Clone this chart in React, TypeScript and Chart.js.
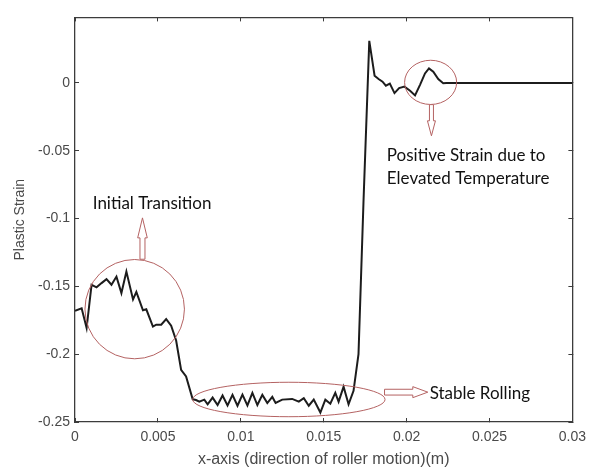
import { useEffect, useRef } from 'react';
import { Chart, registerables } from 'chart.js';

Chart.register(...registerables);

// ---- data ----
const xValues = [
  0, 0.0004, 0.0007, 0.001, 0.0013, 0.0016, 0.0019, 0.0022, 0.0025, 0.0028,
  0.0031, 0.0035, 0.0037, 0.0041, 0.0043, 0.0047, 0.0049, 0.0052, 0.0055, 0.0058,
  0.0061, 0.0064, 0.0067, 0.0071, 0.0073,
  0.0075, 0.0078, 0.008, 0.0083, 0.0086, 0.0089, 0.0092, 0.0095, 0.0098, 0.0101,
  0.0104, 0.0107, 0.011, 0.0113, 0.0116, 0.0119, 0.0121, 0.0125, 0.0131, 0.0135,
  0.0138, 0.0141, 0.0144, 0.0148, 0.0151, 0.0154, 0.0157, 0.0159, 0.0162, 0.0165,
  0.0168, 0.0171, 0.0174, 0.01775,
  0.01807, 0.01831, 0.01855, 0.01875, 0.01899, 0.01927, 0.01955, 0.01987, 0.02021, 0.02051,
  0.02081, 0.02111, 0.02135, 0.02161, 0.02191, 0.02221, 0.0224, 0.03,
];
const strainValues = [
  -0.168, -0.1662, -0.1807, -0.1488, -0.1507, -0.1476, -0.1447, -0.1488, -0.1428, -0.1549,
  -0.1391, -0.1596, -0.1541, -0.1676, -0.1669, -0.1797, -0.1783, -0.1783, -0.1741, -0.179,
  -0.1899, -0.2116, -0.2164, -0.2333, -0.2338,
  -0.235, -0.2335, -0.237, -0.232, -0.2375, -0.2305, -0.2378, -0.23, -0.238, -0.2298,
  -0.2378, -0.2285, -0.2375, -0.23, -0.236, -0.2315, -0.236, -0.2335, -0.233, -0.235,
  -0.2325, -0.238, -0.2335, -0.243, -0.2335, -0.2365, -0.2285, -0.235, -0.224, -0.237,
  -0.227, -0.2, -0.088, 0.031,
  0.0053, 0.0029, 0.0009, -0.002, -0.0005, -0.0075, -0.0038, -0.0027, -0.0058, -0.0092,
  -0.0014, 0.007, 0.0107, 0.0082, 0.0029, -0.0002, 0, 0,
];
const xTicks = [0, 0.005, 0.01, 0.015, 0.02, 0.025, 0.03];
const yTicks = [-0.25, -0.2, -0.15, -0.1, -0.05, 0];
const xRange = [0, 0.03];
const yRange = [-0.25, 0.0483];
const xTitle = 'x-axis (direction of roller motion)(m)';
const yTitle = 'Plastic Strain';

// annotation anchors in data coordinates
const ellipseCenters = [
  [0.0036, -0.1668],
  [0.02145, 0.0004],
  [0.0129, -0.2334],
];
const ellipseRadii = [
  [0.003, 0.0366],
  [0.00157, 0.0163],
  [0.0058, 0.0127],
];
const arrowTails = [
  [0.00407, -0.13],
  [0.0215, -0.016],
  [0.01867, -0.228],
];
const arrowTips = [
  [0.00407, -0.0995],
  [0.0215, -0.039],
  [0.02128, -0.228],
];
const noteTexts = [
  'Initial Transition',
  'Positive Strain due to',
  'Elevated Temperature',
  'Stable Rolling',
];
const notePositions = [
  [0.00465, -0.0886],
  [0.01881, -0.0535],
  [0.01881, -0.0704],
  [0.02139, -0.229],
];

// ---- styles ----
const noteAlign: CanvasTextAlign[] = ['center', 'left', 'left', 'left'];
const arrowShape = [
  { head: 20, headHalf: 4.8, shaftHalf: 2.5 },
  { head: 15, headHalf: 4, shaftHalf: 2 },
  { head: 15, headHalf: 5.5, shaftHalf: 2.9 },
];
const ANNOT_COLOR = '#b46262';
const AXIS_COLOR = '#3c3c3c';
const TEXT_COLOR = '#4a4a4a';
const TICK_FONT = { family: '"Liberation Sans", Arial, sans-serif', size: 14 };
const X_TITLE_FONT = { family: '"Liberation Sans", Arial, sans-serif', size: 16 };
const Y_TITLE_FONT = { family: '"Liberation Sans", Arial, sans-serif', size: 14 };
const NOTE_FONT = '17px Lato, "Open Sans", sans-serif';

const fmt = (v: number) => String(Number(v.toFixed(4)));

const annotationPlugin = {
  id: 'notes',
  afterDatasetsDraw(chart: any) {
    const ctx = chart.ctx as CanvasRenderingContext2D;
    const xs = chart.scales.x;
    const ys = chart.scales.y;
    const px = (v: number) => xs.getPixelForValue(v);
    const py = (v: number) => ys.getPixelForValue(v);
    ctx.save();
    // ellipses
    ctx.strokeStyle = ANNOT_COLOR;
    ctx.lineWidth = 1;
    ellipseCenters.forEach((c, i) => {
      const cx = px(c[0]);
      const cy = py(c[1]);
      const rx = Math.abs(px(c[0] + ellipseRadii[i][0]) - cx);
      const ry = Math.abs(py(c[1] + ellipseRadii[i][1]) - cy);
      ctx.beginPath();
      ctx.ellipse(cx, cy, rx, ry, 0, 0, Math.PI * 2);
      ctx.stroke();
    });
    // hollow arrows
    arrowTails.forEach((t, i) => {
      const x0 = px(t[0]);
      const y0 = py(t[1]);
      const x1 = px(arrowTips[i][0]);
      const y1 = py(arrowTips[i][1]);
      const len = Math.hypot(x1 - x0, y1 - y0);
      const ux = (x1 - x0) / len;
      const uy = (y1 - y0) / len;
      const nx = -uy;
      const ny = ux;
      const s = arrowShape[i];
      const hbx = x1 - ux * s.head;
      const hby = y1 - uy * s.head;
      const pts = [
        [x0 + nx * s.shaftHalf, y0 + ny * s.shaftHalf],
        [hbx + nx * s.shaftHalf, hby + ny * s.shaftHalf],
        [hbx + nx * s.headHalf, hby + ny * s.headHalf],
        [x1, y1],
        [hbx - nx * s.headHalf, hby - ny * s.headHalf],
        [hbx - nx * s.shaftHalf, hby - ny * s.shaftHalf],
        [x0 - nx * s.shaftHalf, y0 - ny * s.shaftHalf],
      ];
      ctx.beginPath();
      pts.forEach((p, k) => (k === 0 ? ctx.moveTo(p[0], p[1]) : ctx.lineTo(p[0], p[1])));
      ctx.closePath();
      ctx.fillStyle = '#ffffff';
      ctx.fill();
      ctx.stroke();
    });
    // notes
    ctx.fillStyle = '#111111';
    ctx.font = NOTE_FONT;
    ctx.textBaseline = 'middle';
    noteTexts.forEach((txt, i) => {
      ctx.textAlign = noteAlign[i];
      ctx.fillText(txt, px(notePositions[i][0]), py(notePositions[i][1]));
    });
    ctx.restore();
  },
};

export default function App() {
  const canvasRef = useRef<HTMLCanvasElement>(null);

  useEffect(() => {
    if (!canvasRef.current) return;
    const gridOpts = { drawOnChartArea: false, drawTicks: true, tickLength: -4, color: AXIS_COLOR, tickColor: AXIS_COLOR, lineWidth: 1 };
    const borderOpts = { display: true, color: AXIS_COLOR, width: 1.3 };
    const hiddenAxis = (position: string, ticks: number[], range: number[], horizontal: boolean) => ({
      type: 'linear',
      position,
      min: range[0],
      max: range[1],
      afterBuildTicks: (s: any) => {
        s.ticks = ticks.map((v) => ({ value: v }));
      },
      afterFit: (s: any) => {
        if (horizontal) s.height = 0;
        else s.width = 0;
      },
      ticks: { display: false },
      grid: gridOpts,
      border: borderOpts,
      title: { display: false },
    });

    const chart = new Chart(canvasRef.current, {
      type: 'scatter',
      data: {
        datasets: [
          {
            data: xValues.map((x, i) => ({ x, y: strainValues[i] })),
            showLine: true,
            borderColor: '#1c1c1c',
            borderWidth: 2,
            pointRadius: 0,
            tension: 0,
            xAxisID: 'x',
            yAxisID: 'y',
          },
        ],
      },
      options: {
        responsive: false,
        animation: false,
        devicePixelRatio: 1,
        layout: { padding: { left: 0, right: 24, top: 11.5, bottom: 0 } },
        plugins: { legend: { display: false }, tooltip: { enabled: false } },
        events: [],
        scales: {
          x: {
            type: 'linear',
            position: 'bottom',
            min: xRange[0],
            max: xRange[1],
            afterBuildTicks: (s: any) => {
              s.ticks = xTicks.map((v) => ({ value: v }));
            },
            afterFit: (s: any) => {
              s.height = 48;
            },
            ticks: {
              autoSkip: false,
              maxRotation: 0,
              color: TEXT_COLOR,
              font: TICK_FONT,
              padding: 11,
              callback: (v: any) => fmt(Number(v)),
            },
            grid: gridOpts,
            border: borderOpts,
            title: { display: true, text: xTitle, color: TEXT_COLOR, font: X_TITLE_FONT, padding: { top: 0, bottom: 0.5 } },
          },
          y: {
            type: 'linear',
            position: 'left',
            min: yRange[0],
            max: yRange[1],
            afterBuildTicks: (s: any) => {
              s.ticks = yTicks.map((v) => ({ value: v }));
            },
            afterFit: (s: any) => {
              s.width = 75;
            },
            ticks: {
              autoSkip: false,
              color: TEXT_COLOR,
              font: TICK_FONT,
              padding: 9,
              callback: (v: any) => fmt(Number(v)),
            },
            grid: gridOpts,
            border: borderOpts,
            title: { display: true, text: yTitle, color: TEXT_COLOR, font: Y_TITLE_FONT, padding: { top: 11.6, bottom: 0 } },
          },
          xTop: hiddenAxis('top', xTicks, xRange, true),
          yRight: hiddenAxis('right', yTicks, yRange, false),
        },
      } as any,
      plugins: [annotationPlugin],
    });
    return () => chart.destroy();
  }, []);

  return (
    <div style={{ position: 'absolute', left: 0, top: 0, width: 597, height: 470, background: '#ffffff' }}>
      <canvas ref={canvasRef} width={597} height={470} style={{ display: 'block' }} />
    </div>
  );
}
